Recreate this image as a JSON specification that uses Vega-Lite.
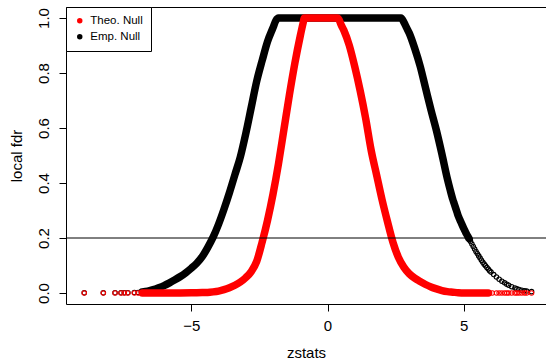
{
  "$schema": "https://vega.github.io/schema/vega-lite/v6.json",
  "autosize": "none",
  "width": 480,
  "height": 297,
  "padding": {"left": 66, "top": 7, "right": 0, "bottom": 56},
  "background": "white",
  "datasets": {
    "fdr": [
      {"z": -8.93, "fdr": 0.0005, "group": "Emp. Null"},
      {"z": -8.23, "fdr": 0.0005, "group": "Emp. Null"},
      {"z": -7.8, "fdr": 0.001, "group": "Emp. Null"},
      {"z": -7.58, "fdr": 0.001, "group": "Emp. Null"},
      {"z": -7.46, "fdr": 0.001, "group": "Emp. Null"},
      {"z": -7.33, "fdr": 0.001, "group": "Emp. Null"},
      {"z": -7.09, "fdr": 0.002, "group": "Emp. Null"},
      {"z": -6.95, "fdr": 0.002, "group": "Emp. Null"},
      {"z": -6.8, "fdr": 0.004, "group": "Emp. Null"},
      {"z": -6.6, "fdr": 0.007, "group": "Emp. Null"},
      {"z": -6.4, "fdr": 0.012, "group": "Emp. Null"},
      {"z": -6.2, "fdr": 0.019, "group": "Emp. Null"},
      {"z": -6.0, "fdr": 0.027, "group": "Emp. Null"},
      {"z": -5.8, "fdr": 0.037, "group": "Emp. Null"},
      {"z": -5.6, "fdr": 0.048, "group": "Emp. Null"},
      {"z": -5.4, "fdr": 0.06, "group": "Emp. Null"},
      {"z": -5.2, "fdr": 0.074, "group": "Emp. Null"},
      {"z": -5.0, "fdr": 0.09, "group": "Emp. Null"},
      {"z": -4.8, "fdr": 0.108, "group": "Emp. Null"},
      {"z": -4.6, "fdr": 0.132, "group": "Emp. Null"},
      {"z": -4.4, "fdr": 0.165, "group": "Emp. Null"},
      {"z": -4.2, "fdr": 0.203, "group": "Emp. Null"},
      {"z": -4.0, "fdr": 0.25, "group": "Emp. Null"},
      {"z": -3.8, "fdr": 0.305, "group": "Emp. Null"},
      {"z": -3.6, "fdr": 0.365, "group": "Emp. Null"},
      {"z": -3.4, "fdr": 0.43, "group": "Emp. Null"},
      {"z": -3.2, "fdr": 0.495, "group": "Emp. Null"},
      {"z": -3.0, "fdr": 0.58, "group": "Emp. Null"},
      {"z": -2.8, "fdr": 0.675, "group": "Emp. Null"},
      {"z": -2.6, "fdr": 0.77, "group": "Emp. Null"},
      {"z": -2.4, "fdr": 0.845, "group": "Emp. Null"},
      {"z": -2.2, "fdr": 0.915, "group": "Emp. Null"},
      {"z": -2.0, "fdr": 0.965, "group": "Emp. Null"},
      {"z": -1.9, "fdr": 0.99, "group": "Emp. Null"},
      {"z": -1.8, "fdr": 1, "group": "Emp. Null"},
      {"z": -1.0, "fdr": 1, "group": "Emp. Null"},
      {"z": 0.0, "fdr": 1, "group": "Emp. Null"},
      {"z": 1.0, "fdr": 1, "group": "Emp. Null"},
      {"z": 2.0, "fdr": 1, "group": "Emp. Null"},
      {"z": 2.7, "fdr": 1, "group": "Emp. Null"},
      {"z": 2.8, "fdr": 0.985, "group": "Emp. Null"},
      {"z": 2.9, "fdr": 0.965, "group": "Emp. Null"},
      {"z": 3.0, "fdr": 0.945, "group": "Emp. Null"},
      {"z": 3.2, "fdr": 0.89, "group": "Emp. Null"},
      {"z": 3.4, "fdr": 0.825, "group": "Emp. Null"},
      {"z": 3.6, "fdr": 0.745, "group": "Emp. Null"},
      {"z": 3.8, "fdr": 0.665, "group": "Emp. Null"},
      {"z": 4.0, "fdr": 0.59, "group": "Emp. Null"},
      {"z": 4.2, "fdr": 0.505, "group": "Emp. Null"},
      {"z": 4.4, "fdr": 0.415, "group": "Emp. Null"},
      {"z": 4.5, "fdr": 0.376, "group": "Emp. Null"},
      {"z": 4.6, "fdr": 0.34, "group": "Emp. Null"},
      {"z": 4.65, "fdr": 0.325, "group": "Emp. Null"},
      {"z": 4.7, "fdr": 0.31, "group": "Emp. Null"},
      {"z": 4.75, "fdr": 0.295, "group": "Emp. Null"},
      {"z": 4.8, "fdr": 0.28, "group": "Emp. Null"},
      {"z": 4.85, "fdr": 0.268, "group": "Emp. Null"},
      {"z": 4.9, "fdr": 0.257, "group": "Emp. Null"},
      {"z": 4.95, "fdr": 0.246, "group": "Emp. Null"},
      {"z": 5.0, "fdr": 0.235, "group": "Emp. Null"},
      {"z": 5.05, "fdr": 0.225, "group": "Emp. Null"},
      {"z": 5.1, "fdr": 0.215, "group": "Emp. Null"},
      {"z": 5.15, "fdr": 0.206, "group": "Emp. Null"},
      {"z": 5.2, "fdr": 0.197, "group": "Emp. Null"},
      {"z": 5.25, "fdr": 0.187, "group": "Emp. Null"},
      {"z": 5.3, "fdr": 0.178, "group": "Emp. Null"},
      {"z": 5.35, "fdr": 0.169, "group": "Emp. Null"},
      {"z": 5.4, "fdr": 0.16, "group": "Emp. Null"},
      {"z": 5.45, "fdr": 0.151, "group": "Emp. Null"},
      {"z": 5.5, "fdr": 0.143, "group": "Emp. Null"},
      {"z": 5.55, "fdr": 0.135, "group": "Emp. Null"},
      {"z": 5.6, "fdr": 0.127, "group": "Emp. Null"},
      {"z": 5.65, "fdr": 0.119, "group": "Emp. Null"},
      {"z": 5.7, "fdr": 0.112, "group": "Emp. Null"},
      {"z": 5.75, "fdr": 0.105, "group": "Emp. Null"},
      {"z": 5.8, "fdr": 0.099, "group": "Emp. Null"},
      {"z": 5.85, "fdr": 0.093, "group": "Emp. Null"},
      {"z": 5.9, "fdr": 0.087, "group": "Emp. Null"},
      {"z": 5.95, "fdr": 0.081, "group": "Emp. Null"},
      {"z": 6.0, "fdr": 0.076, "group": "Emp. Null"},
      {"z": 6.1, "fdr": 0.067, "group": "Emp. Null"},
      {"z": 6.2, "fdr": 0.058, "group": "Emp. Null"},
      {"z": 6.3, "fdr": 0.05, "group": "Emp. Null"},
      {"z": 6.4, "fdr": 0.043, "group": "Emp. Null"},
      {"z": 6.5, "fdr": 0.037, "group": "Emp. Null"},
      {"z": 6.58, "fdr": 0.032, "group": "Emp. Null"},
      {"z": 6.65, "fdr": 0.028, "group": "Emp. Null"},
      {"z": 6.76, "fdr": 0.023, "group": "Emp. Null"},
      {"z": 6.88, "fdr": 0.018, "group": "Emp. Null"},
      {"z": 6.95, "fdr": 0.015, "group": "Emp. Null"},
      {"z": 7.03, "fdr": 0.013, "group": "Emp. Null"},
      {"z": 7.13, "fdr": 0.01, "group": "Emp. Null"},
      {"z": 7.23, "fdr": 0.008, "group": "Emp. Null"},
      {"z": 7.31, "fdr": 0.007, "group": "Emp. Null"},
      {"z": 7.49, "fdr": 0.005, "group": "Emp. Null"},
      {"z": -8.93, "fdr": 0, "group": "Theo. Null"},
      {"z": -8.23, "fdr": 0, "group": "Theo. Null"},
      {"z": -7.8, "fdr": 0, "group": "Theo. Null"},
      {"z": -7.58, "fdr": 0, "group": "Theo. Null"},
      {"z": -7.46, "fdr": 0, "group": "Theo. Null"},
      {"z": -7.33, "fdr": 0, "group": "Theo. Null"},
      {"z": -7.09, "fdr": 0, "group": "Theo. Null"},
      {"z": -6.95, "fdr": 0, "group": "Theo. Null"},
      {"z": -6.8, "fdr": 0, "group": "Theo. Null"},
      {"z": -6.0, "fdr": 0, "group": "Theo. Null"},
      {"z": -5.4, "fdr": 0, "group": "Theo. Null"},
      {"z": -5.0, "fdr": 0.0005, "group": "Theo. Null"},
      {"z": -4.8, "fdr": 0.001, "group": "Theo. Null"},
      {"z": -4.6, "fdr": 0.0015, "group": "Theo. Null"},
      {"z": -4.4, "fdr": 0.002, "group": "Theo. Null"},
      {"z": -4.2, "fdr": 0.004, "group": "Theo. Null"},
      {"z": -4.0, "fdr": 0.007, "group": "Theo. Null"},
      {"z": -3.8, "fdr": 0.012, "group": "Theo. Null"},
      {"z": -3.6, "fdr": 0.019, "group": "Theo. Null"},
      {"z": -3.4, "fdr": 0.028, "group": "Theo. Null"},
      {"z": -3.2, "fdr": 0.04, "group": "Theo. Null"},
      {"z": -3.0, "fdr": 0.056, "group": "Theo. Null"},
      {"z": -2.8, "fdr": 0.078, "group": "Theo. Null"},
      {"z": -2.6, "fdr": 0.115, "group": "Theo. Null"},
      {"z": -2.4, "fdr": 0.185, "group": "Theo. Null"},
      {"z": -2.2, "fdr": 0.265, "group": "Theo. Null"},
      {"z": -2.0, "fdr": 0.36, "group": "Theo. Null"},
      {"z": -1.8, "fdr": 0.47, "group": "Theo. Null"},
      {"z": -1.6, "fdr": 0.595, "group": "Theo. Null"},
      {"z": -1.4, "fdr": 0.72, "group": "Theo. Null"},
      {"z": -1.2, "fdr": 0.835, "group": "Theo. Null"},
      {"z": -1.0, "fdr": 0.935, "group": "Theo. Null"},
      {"z": -0.9, "fdr": 0.98, "group": "Theo. Null"},
      {"z": -0.85, "fdr": 1, "group": "Theo. Null"},
      {"z": 0.0, "fdr": 1, "group": "Theo. Null"},
      {"z": 0.38, "fdr": 1, "group": "Theo. Null"},
      {"z": 0.5, "fdr": 0.975, "group": "Theo. Null"},
      {"z": 0.6, "fdr": 0.955, "group": "Theo. Null"},
      {"z": 0.8, "fdr": 0.9, "group": "Theo. Null"},
      {"z": 1.0, "fdr": 0.823, "group": "Theo. Null"},
      {"z": 1.2, "fdr": 0.735, "group": "Theo. Null"},
      {"z": 1.4, "fdr": 0.635, "group": "Theo. Null"},
      {"z": 1.6, "fdr": 0.52, "group": "Theo. Null"},
      {"z": 1.8, "fdr": 0.43, "group": "Theo. Null"},
      {"z": 2.0, "fdr": 0.34, "group": "Theo. Null"},
      {"z": 2.2, "fdr": 0.26, "group": "Theo. Null"},
      {"z": 2.4, "fdr": 0.185, "group": "Theo. Null"},
      {"z": 2.6, "fdr": 0.13, "group": "Theo. Null"},
      {"z": 2.8, "fdr": 0.094, "group": "Theo. Null"},
      {"z": 3.0, "fdr": 0.07, "group": "Theo. Null"},
      {"z": 3.2, "fdr": 0.054, "group": "Theo. Null"},
      {"z": 3.4, "fdr": 0.042, "group": "Theo. Null"},
      {"z": 3.6, "fdr": 0.031, "group": "Theo. Null"},
      {"z": 3.8, "fdr": 0.022, "group": "Theo. Null"},
      {"z": 4.0, "fdr": 0.015, "group": "Theo. Null"},
      {"z": 4.2, "fdr": 0.009, "group": "Theo. Null"},
      {"z": 4.4, "fdr": 0.005, "group": "Theo. Null"},
      {"z": 4.6, "fdr": 0.003, "group": "Theo. Null"},
      {"z": 4.8, "fdr": 0.001, "group": "Theo. Null"},
      {"z": 5.0, "fdr": 0, "group": "Theo. Null"},
      {"z": 5.5, "fdr": 0, "group": "Theo. Null"},
      {"z": 5.9, "fdr": 0, "group": "Theo. Null"},
      {"z": 5.95, "fdr": 0, "group": "Theo. Null"},
      {"z": 6.05, "fdr": 0, "group": "Theo. Null"},
      {"z": 6.2, "fdr": 0, "group": "Theo. Null"},
      {"z": 6.3, "fdr": 0, "group": "Theo. Null"},
      {"z": 6.4, "fdr": 0, "group": "Theo. Null"},
      {"z": 6.5, "fdr": 0, "group": "Theo. Null"},
      {"z": 6.58, "fdr": 0, "group": "Theo. Null"},
      {"z": 6.65, "fdr": 0, "group": "Theo. Null"},
      {"z": 6.76, "fdr": 0, "group": "Theo. Null"},
      {"z": 6.88, "fdr": 0, "group": "Theo. Null"},
      {"z": 6.95, "fdr": 0, "group": "Theo. Null"},
      {"z": 7.03, "fdr": 0, "group": "Theo. Null"},
      {"z": 7.13, "fdr": 0, "group": "Theo. Null"},
      {"z": 7.23, "fdr": 0, "group": "Theo. Null"},
      {"z": 7.31, "fdr": 0, "group": "Theo. Null"},
      {"z": 7.49, "fdr": 0, "group": "Theo. Null"}
    ]
  },
  "data": {"name": "fdr"},
  "encoding": {
    "y": {
      "field": "fdr",
      "type": "quantitative",
      "scale": {"domain": [-0.04, 1.04], "nice": false, "zero": false},
      "axis": {
        "title": "local fdr",
        "values": [0, 0.2, 0.4, 0.6, 0.8, 1.0],
        "format": ".1f",
        "labelAngle": 270,
        "labelAlign": "center",
        "labelBaseline": "alphabetic",
        "labelPadding": 11,
        "titleAngle": 270,
        "titleAlign": "center",
        "titleBaseline": "alphabetic",
        "titleX": -45
      }
    }
  },
  "layer": [
    {
      "transform": [{"filter": "datum.group == 'Emp. Null' && datum.z >= -6.8 && datum.z <= 5.2"}],
      "mark": {"type": "line", "color": "#000000", "strokeWidth": 7.5, "strokeCap": "round", "strokeJoin": "round", "interpolate": "monotone"},
      "encoding": {
        "x": {
          "field": "z", "type": "quantitative",
          "scale": {"domain": [-9.6, 8.02], "nice": false, "zero": false},
          "axis": {
            "title": "zstats",
            "values": [-5, 0, 5],
            "labelBaseline": "alphabetic",
            "labelPadding": 19,
            "titleBaseline": "alphabetic",
            "titleY": 53.5
          }
        }
      }
    },
    {
      "transform": [{"filter": "datum.group == 'Emp. Null'"}],
      "mark": {"type": "point", "shape": "circle", "filled": false, "color": "#000000", "size": 20, "strokeWidth": 1.1, "opacity": 1},
      "encoding": {
        "x": {"field": "z", "type": "quantitative", "scale": {"domain": [-9.6, 8.02], "nice": false, "zero": false}, "axis": null}
      }
    },
    {
      "transform": [{"filter": "datum.group == 'Theo. Null' && datum.z >= -6.8 && datum.z <= 5.9"}],
      "mark": {"type": "line", "color": "#ff0000", "strokeWidth": 7.5, "strokeCap": "round", "strokeJoin": "round", "interpolate": "monotone"},
      "encoding": {
        "x": {"field": "z", "type": "quantitative", "scale": {"domain": [-9.6, 8.02], "nice": false, "zero": false}, "axis": null}
      }
    },
    {
      "transform": [{"filter": "datum.group == 'Theo. Null'"}],
      "mark": {"type": "point", "shape": "circle", "filled": false, "color": "#ff0000", "size": 20, "strokeWidth": 1.1, "opacity": 1},
      "encoding": {
        "x": {
          "field": "z", "type": "quantitative",
          "scale": {"domain": [-9.6, 8.02], "nice": false, "zero": false},
          "axis": {"orient": "top", "labels": false, "ticks": false, "title": null, "domain": true}
        }
      }
    },
    {
      "mark": {"type": "point", "shape": "circle", "filled": true, "size": 0, "opacity": 1},
      "encoding": {
        "x": {"field": "z", "type": "quantitative", "scale": {"domain": [-9.6, 8.02], "nice": false, "zero": false}, "axis": null},
        "fill": {
          "field": "group", "type": "nominal",
          "scale": {"domain": ["Theo. Null", "Emp. Null"], "range": ["#ff0000", "#000000"]},
          "legend": {
            "title": null,
            "orient": "top-left",
            "offset": 0,
            "padding": 8,
            "rowPadding": 3,
            "symbolType": "circle",
            "symbolSize": 30,
            "symbolOpacity": 1,
            "symbolStrokeWidth": 0,
            "labelFont": "Liberation Sans",
            "labelFontSize": 11.5,
            "labelColor": "black",
            "labelOffset": 4.8,
            "strokeColor": "black",
            "fillColor": "white",
            "cornerRadius": 0
          }
        }
      }
    },
    {
      "data": {"values": [{"level": 0.2}]},
      "mark": {"type": "rule", "color": "black", "strokeWidth": 1},
      "encoding": {
        "y": {"field": "level", "type": "quantitative"}
      }
    }
  ],
  "resolve": {"axis": {"x": "independent"}},
  "config": {
    "view": {"stroke": null},
    "axis": {
      "grid": false,
      "domainColor": "black",
      "domainWidth": 1,
      "tickColor": "black",
      "tickWidth": 1,
      "tickSize": 7,
      "labelColor": "black",
      "titleColor": "black",
      "labelFont": "Liberation Sans",
      "titleFont": "Liberation Sans",
      "labelFontSize": 15,
      "titleFontSize": 15,
      "titleFontWeight": "normal"
    }
  }
}
